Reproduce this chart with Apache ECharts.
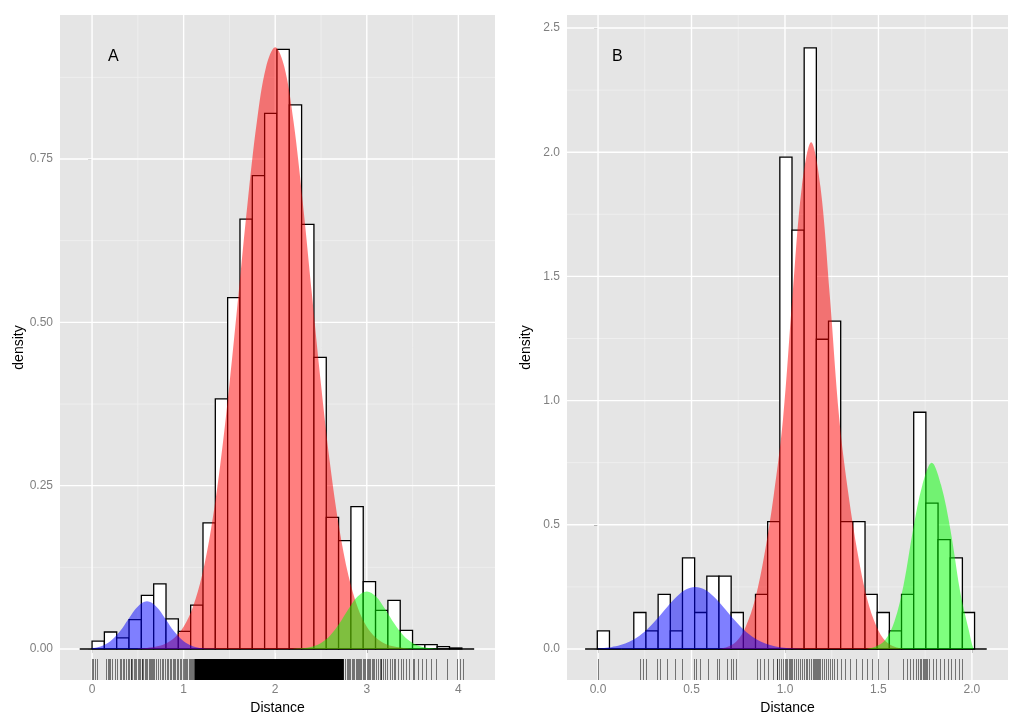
<!DOCTYPE html>
<html><head><meta charset="utf-8">
<script src="https://cdn.jsdelivr.net/npm/echarts@6/dist/echarts.min.js"></script>
<style>html,body{margin:0;padding:0;background:#fff}#c{width:1024px;height:724px}</style>
</head><body><div id="c"></div>
<script>
// ---------------- DATA ----------------
// Panel A histogram (density), 30 bins
const binStartA = 0.0;
const binWidthA = 0.1346;
const histA = [0.012, 0.026, 0.017, 0.045, 0.082, 0.0995, 0.046, 0.027, 0.067, 0.193,
  0.383, 0.538, 0.658, 0.7245, 0.820, 0.918, 0.833, 0.650, 0.4465, 0.2015,
  0.166, 0.218, 0.103, 0.059, 0.0745, 0.0286, 0.0066, 0.0066, 0.0036, 0.0015];
// Panel B histogram (density), 31 bins
const binStartB = -0.004;
const binWidthB = 0.0651;
const histB = [0.073, 0, 0, 0.147, 0.073, 0.22, 0.073, 0.367, 0.147, 0.293, 0.293,
  0.147, 0, 0.22, 0.513, 1.98, 1.686, 2.42, 1.247, 1.32, 0.513, 0.513, 0.22,
  0.147, 0.073, 0.22, 0.953, 0.587, 0.44, 0.367, 0.147];

// Fitted component curves [x, density]
const blueA = [[0,0.0012],[0.1,0.0043],[0.2,0.0119],[0.3,0.0263],[0.4,0.0464],[0.5,0.0652],[0.6,0.073],[0.7,0.0652],[0.8,0.0464],[0.9,0.0263],[1.0,0.0119],[1.1,0.0043],[1.2,0.0012],[1.3,0.0003],[1.4,0.0]];
const redA = [[0.5,0.0006],[0.6,0.0015],[0.7,0.0036],[0.8,0.0081],[0.9,0.0172],[1.0,0.034],[1.1,0.064],[1.2,0.112],[1.3,0.184],[1.4,0.282],[1.5,0.405],[1.6,0.544],[1.7,0.685],[1.8,0.8075],[1.9,0.891],[2.0,0.921],[2.1,0.891],[2.2,0.8075],[2.3,0.685],[2.4,0.544],[2.5,0.405],[2.6,0.282],[2.7,0.184],[2.8,0.112],[2.9,0.064],[3.0,0.034],[3.1,0.0172],[3.2,0.0081],[3.3,0.0036],[3.4,0.0015],[3.5,0.0006]];
const greenA = [[2.2,0.0003],[2.3,0.001],[2.4,0.0034],[2.5,0.0092],[2.6,0.0207],[2.7,0.039],[2.8,0.0613],[2.9,0.0804],[3.0,0.088],[3.1,0.0804],[3.2,0.0613],[3.3,0.039],[3.4,0.0207],[3.5,0.0092],[3.6,0.0034],[3.7,0.001],[3.8,0.0003]];
const blueB = [[0.0,0.0025],[0.02,0.0033],[0.07,0.0075],[0.12,0.0157],[0.17,0.030],[0.22,0.0527],[0.27,0.0848],[0.32,0.125],[0.37,0.1695],[0.42,0.21],[0.47,0.2394],[0.52,0.25],[0.57,0.2394],[0.62,0.21],[0.67,0.1695],[0.72,0.125],[0.77,0.0848],[0.82,0.0527],[0.87,0.030],[0.92,0.0157],[0.97,0.0075],[1.02,0.0033],[1.07,0.0013],[1.12,0.0]];
const redB = [[0.64,0.0],[0.69,0.008],[0.74,0.03],[0.79,0.09],[0.84,0.2],[0.89,0.38],[0.94,0.62],[0.99,0.93],[1.04,1.42],[1.09,1.86],[1.14,2.04],[1.19,1.86],[1.24,1.42],[1.29,0.93],[1.34,0.62],[1.39,0.38],[1.44,0.2],[1.49,0.09],[1.54,0.03],[1.59,0.008],[1.64,0.0]];
const greenB = [[1.435,0.0],[1.485,0.01],[1.535,0.035],[1.585,0.11],[1.635,0.26],[1.685,0.48],[1.735,0.66],[1.785,0.75],[1.835,0.66],[1.885,0.48],[1.935,0.24],[1.96,0.15],[1.985,0.07],[2.0,0.02],[2.01,0.0]];

// Rug (observed distances)
const rugA = [0.0,0.01,0.03,0.05,0.15,0.17,0.19,0.2,0.22,0.25,0.27,0.3,0.32,0.34,0.35,0.37,0.39,0.4,0.42,0.43,0.44,0.46,0.47,0.48,0.5,0.51,0.52,0.54,0.55,0.56,0.58,0.59,0.6,0.62,0.63,0.64,0.66,0.67,0.68,0.7,0.72,0.74,0.76,0.78,0.8,0.82,0.83,0.85,0.86,0.88,0.9,0.91,0.93,0.94,0.96,0.97,0.99,1.0,1.01,1.03,1.04,1.06,1.07,1.08,1.09,1.1,1.11,
  2.76,2.78,2.8,2.81,2.82,2.84,2.85,2.86,2.88,2.89,2.9,2.92,2.93,2.94,2.96,2.97,2.98,3.0,3.01,3.02,3.04,3.06,3.07,3.08,3.1,3.12,3.14,3.15,3.16,3.18,3.2,3.22,3.25,3.28,3.3,3.31,3.34,3.37,3.4,3.43,3.46,
  3.5,3.52,3.56,3.6,3.65,3.7,3.76,3.88,3.98,4.02,4.05];
const rugBandsA = [[1.12, 2.75]];
const rugB = [0.0,0.225,0.242,0.257,0.314,0.332,0.367,0.412,0.45,0.513,0.524,0.545,0.59,0.635,0.649,0.688,0.71,0.724,0.738,
  0.849,0.866,0.888,0.911,0.938,0.955,0.96,0.97,0.98,0.99,1.0,1.005,1.01,1.02,1.025,1.03,1.04,1.05,1.06,1.07,1.08,1.09,1.1,1.11,1.12,1.13,1.14,1.15,1.155,1.16,1.165,1.17,1.175,1.18,1.19,1.2,1.21,1.22,1.23,1.24,1.25,1.26,1.28,1.3,1.32,1.35,1.38,1.41,
  1.437,1.464,1.499,1.552,1.633,1.651,1.668,1.686,1.70,1.71,1.72,1.73,1.74,1.745,1.75,1.755,1.76,1.77,1.793,1.81,1.83,1.85,1.87,1.89,1.91,1.93,1.945];

// Axis ticks
const xTicksA = [0, 1, 2, 3, 4];
const xMinorA = [0.5, 1.5, 2.5, 3.5];
const yTicksA = [0, 0.25, 0.5, 0.75];
const yMinorA = [0.125, 0.375, 0.625, 0.875];
const xTicksB = [0, 0.5, 1, 1.5, 2];
const xMinorB = [0.25, 0.75, 1.25, 1.75];
const yTicksB = [0, 0.5, 1, 1.5, 2, 2.5];
const yMinorB = [0.25, 0.75, 1.25, 1.75, 2.25];
const panelLabels = ['A', 'B'];
const xTitle = 'Distance';
const yTitle = 'density';

// ---------------- CHART ----------------
const chart = echarts.init(document.getElementById('c'));
const FONT = '"Liberation Sans", Arial, Helvetica, sans-serif';
const ranges = [
  {x: [-0.35, 4.40], y: [-0.0475, 0.9705]},
  {x: [-0.166, 2.193], y: [-0.1248, 2.5523]}
];

function gridLines(idx, vals, dir, major) {
  return {
    type: 'custom', xAxisIndex: idx, yAxisIndex: idx, z: 1, silent: true,
    data: vals.map(v => [v]),
    renderItem(params, api) {
      const cs = params.coordSys;
      const v = api.value(0);
      let shape;
      if (dir === 'v') {
        const x = api.coord([v, 0])[0];
        shape = {x1: x, y1: cs.y, x2: x, y2: cs.y + cs.height};
      } else {
        const y = api.coord([0, v])[1];
        shape = {x1: cs.x, y1: y, x2: cs.x + cs.width, y2: y};
      }
      return {type: 'line', shape, style: {stroke: major ? '#FFFFFF' : '#F2F2F2', lineWidth: major ? 1.4 : 0.7}};
    }
  };
}

function histSeries(idx, start, width, values) {
  return {
    type: 'custom', xAxisIndex: idx, yAxisIndex: idx, z: 3, silent: true,
    data: values.map((v, i) => [start + i * width, start + (i + 1) * width, v]),
    renderItem(params, api) {
      const p0 = api.coord([api.value(0), api.value(2)]);
      const p1 = api.coord([api.value(1), 0]);
      return {type: 'rect', shape: {x: p0[0], y: p0[1], width: p1[0] - p0[0], height: p1[1] - p0[1]},
        style: {fill: '#FFFFFF', stroke: '#000000', lineWidth: 1.3}};
    }
  };
}

function baseLine(idx, start, width, n) {
  return {
    type: 'line', xAxisIndex: idx, yAxisIndex: idx, z: 4, silent: true, symbol: 'none',
    data: [[start - width, 0], [start + (n + 1) * width, 0]],
    lineStyle: {color: '#000', width: 1.4}
  };
}

function areaSeries(idx, data, color) {
  return {
    type: 'line', xAxisIndex: idx, yAxisIndex: idx, z: 5, silent: true, symbol: 'none',
    smooth: 0.35, data,
    lineStyle: {width: 0, color: color}, areaStyle: {color: color, opacity: 1}
  };
}

function rugSeries(idx, vals) {
  return {
    type: 'custom', xAxisIndex: idx, yAxisIndex: idx, z: 6, silent: true,
    data: vals.map(v => [v]),
    renderItem(params, api) {
      const cs = params.coordSys;
      const x = Math.round(api.coord([api.value(0), 0])[0]) + 0.5;
      const yb = cs.y + cs.height;
      return {type: 'line', shape: {x1: x, y1: yb - 21, x2: x, y2: yb}, style: {stroke: 'rgba(0,0,0,0.5)', lineWidth: 1}};
    }
  };
}

function rugBandSeries(idx, bands) {
  return {
    type: 'custom', xAxisIndex: idx, yAxisIndex: idx, z: 6, silent: true,
    data: bands,
    renderItem(params, api) {
      const cs = params.coordSys;
      const x0 = api.coord([api.value(0), 0])[0];
      const x1 = api.coord([api.value(1), 0])[0];
      const yb = cs.y + cs.height;
      return {type: 'rect', shape: {x: x0, y: yb - 21, width: x1 - x0, height: 21}, style: {fill: '#000'}};
    }
  };
}

function xAxis(idx, ticks, fmt) {
  return {
    type: 'value', gridIndex: idx, min: ranges[idx].x[0], max: ranges[idx].x[1],
    splitLine: {show: false}, axisLine: {show: false},
    axisTick: {show: true, customValues: ticks, length: 4, lineStyle: {color: '#666666', width: 1}},
    axisLabel: {customValues: ticks, formatter: fmt, color: '#7F7F7F', fontSize: 12, fontFamily: FONT, margin: 4},
    name: xTitle, nameLocation: 'middle', nameGap: 19,
    nameTextStyle: {color: '#000', fontSize: 14, fontFamily: FONT}
  };
}
function yAxis(idx, ticks, fmt) {
  return {
    type: 'value', gridIndex: idx, min: ranges[idx].y[0], max: ranges[idx].y[1],
    splitLine: {show: false}, axisLine: {show: false},
    axisTick: {show: true, customValues: ticks, length: 4, lineStyle: {color: '#666666', width: 1}},
    axisLabel: {customValues: ticks, formatter: fmt, color: '#7F7F7F', fontSize: 12, fontFamily: FONT, margin: 7},
    name: yTitle, nameLocation: 'middle', nameGap: 34, nameRotate: 90,
    nameTextStyle: {color: '#000', fontSize: 14, fontFamily: FONT}
  };
}

const option = {
  animation: false,
  backgroundColor: '#FFFFFF',
  grid: [
    {left: 60, top: 15, width: 435, height: 665, show: true, backgroundColor: '#E5E5E5', borderWidth: 0},
    {left: 567, top: 15, width: 441, height: 665, show: true, backgroundColor: '#E5E5E5', borderWidth: 0}
  ],
  xAxis: [
    xAxis(0, xTicksA, v => String(Math.round(v))),
    xAxis(1, xTicksB, v => Number(v).toFixed(1))
  ],
  yAxis: [
    yAxis(0, yTicksA, v => Number(v).toFixed(2)),
    yAxis(1, yTicksB, v => Number(v).toFixed(1))
  ],
  graphic: [
    {type: 'text', left: 108, top: 49, style: {text: panelLabels[0], fontSize: 16, fontFamily: FONT, fill: '#000'}},
    {type: 'text', left: 612, top: 49, style: {text: panelLabels[1], fontSize: 16, fontFamily: FONT, fill: '#000'}}
  ],
  series: [
    gridLines(0, xMinorA, 'v', false), gridLines(0, yMinorA, 'h', false),
    gridLines(0, xTicksA, 'v', true), gridLines(0, yTicksA, 'h', true),
    gridLines(1, xMinorB, 'v', false), gridLines(1, yMinorB, 'h', false),
    gridLines(1, xTicksB, 'v', true), gridLines(1, yTicksB, 'h', true),
    histSeries(0, binStartA, binWidthA, histA),
    baseLine(0, binStartA, binWidthA, histA.length),
    histSeries(1, binStartB, binWidthB, histB),
    baseLine(1, binStartB, binWidthB, histB.length),
    areaSeries(0, redA, 'rgba(255,0,0,0.5)'),
    areaSeries(0, blueA, 'rgba(0,0,255,0.5)'),
    areaSeries(0, greenA, 'rgba(0,255,0,0.5)'),
    areaSeries(1, redB, 'rgba(255,0,0,0.5)'),
    areaSeries(1, blueB, 'rgba(0,0,255,0.5)'),
    areaSeries(1, greenB, 'rgba(0,255,0,0.5)'),
    rugSeries(0, rugA), rugBandSeries(0, rugBandsA),
    rugSeries(1, rugB)
  ]
};
chart.setOption(option);
</script></body></html>
